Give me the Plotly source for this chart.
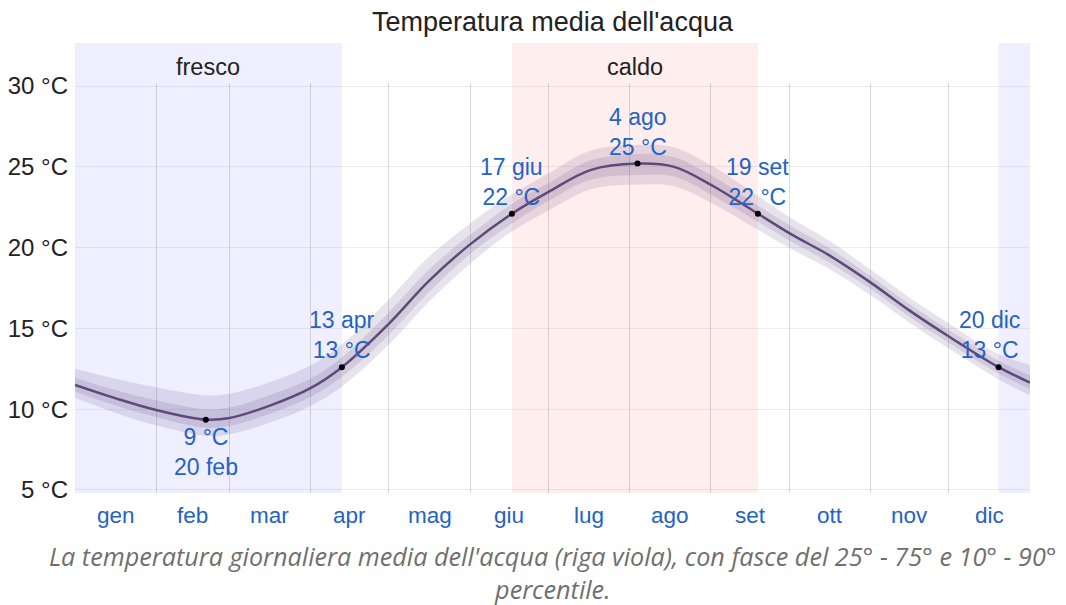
import plotly.graph_objects as go

# ---- data ----
days = [0, 15, 31, 50, 59, 75, 90, 102, 120, 135, 151, 167, 181, 197, 215, 229,
        244, 261, 274, 288, 304, 319, 334, 353, 365]
mean_t = [11.5, 10.7, 9.95, 9.35, 9.45, 10.25, 11.3, 12.6, 15.3, 17.9, 20.2, 22.1,
          23.45, 24.8, 25.2, 25.0, 23.8, 22.1, 20.8, 19.55, 17.85, 16.1, 14.5, 12.6, 11.65]
p10 = [10.7, 9.8, 9.0, 8.35, 8.45, 9.2, 10.2, 11.4, 14.0, 16.6, 19.0, 21.0,
       22.3, 23.6, 23.9, 23.8, 22.7, 21.1, 19.9, 18.7, 17.05, 15.35, 13.75, 11.85, 10.85]
p25 = [11.1, 10.25, 9.5, 8.85, 8.95, 9.75, 10.75, 12.0, 14.6, 17.2, 19.6, 21.5,
       22.9, 24.2, 24.5, 24.4, 23.2, 21.6, 20.35, 19.1, 17.45, 15.7, 14.1, 12.2, 11.25]
p75 = [11.95, 11.2, 10.55, 10.0, 10.1, 10.9, 11.9, 13.2, 16.0, 18.6, 20.8, 22.7,
       24.0, 25.4, 25.8, 25.6, 24.4, 22.6, 21.3, 20.0, 18.25, 16.5, 14.9, 13.0, 12.1]
p90 = [12.5, 11.9, 11.35, 10.85, 10.95, 11.7, 12.7, 14.0, 16.8, 19.4, 21.5, 23.3,
       24.6, 26.0, 26.35, 26.2, 25.0, 23.2, 21.8, 20.45, 18.65, 16.9, 15.3, 13.4, 12.75]

month_names = ["gen", "feb", "mar", "apr", "mag", "giu", "lug", "ago", "set", "ott", "nov", "dic"]
month_mids = [15.5, 45, 74.5, 105, 135.5, 166, 196.5, 227.5, 258, 288.5, 319, 349.5]
month_starts = [31, 59, 90, 120, 151, 181, 212, 243, 273, 304, 334]

y_ticks = [5, 10, 15, 20, 25, 30]
y_ticktext = ["5 °C", "10 °C", "15 °C", "20 °C", "25 °C", "30 °C"]

season_names = ["fresco", "caldo", ""]
season_start = [0, 167, 353]
season_end = [102, 261, 365]
season_colors = ["rgb(239,239,255)", "rgb(255,238,238)", "rgb(239,239,255)"]

pt_days = [50, 102, 167, 215, 261, 353]
pt_temps = [9.35, 12.6, 22.1, 25.2, 22.1, 12.6]
pt_labels = ["9 °C<br>20 feb", "13 apr<br>13 °C", "17 giu<br>22 °C",
             "4 ago<br>25 °C", "19 set<br>22 °C", "20 dic<br>13 °C"]
pt_below = [True, False, False, False, False, False]
pt_xshift = [0, 0, 0, 0, 0, -9]

title = "Temperatura media dell'acqua"
caption = ("La temperatura giornaliera media dell'acqua (riga viola), con fasce del 25° - 75° e 10° - 90°"
           "<br>percentile.")

FONT = "Liberation Sans, Arial, sans-serif"
BLUE = "#2462c6"
BAND = "rgba(95,70,125,0.15)"
LINE = "#5e4a78"

fig = go.Figure()

# outer band 10-90
fig.add_trace(go.Scatter(x=days, y=p90, mode="lines", line=dict(width=0, shape="spline"),
                         hoverinfo="skip", showlegend=False))
fig.add_trace(go.Scatter(x=days, y=p10, mode="lines", line=dict(width=0, shape="spline"),
                         fill="tonexty", fillcolor=BAND, hoverinfo="skip", showlegend=False))
# inner band 25-75
fig.add_trace(go.Scatter(x=days, y=p75, mode="lines", line=dict(width=0, shape="spline"),
                         hoverinfo="skip", showlegend=False))
fig.add_trace(go.Scatter(x=days, y=p25, mode="lines", line=dict(width=0, shape="spline"),
                         fill="tonexty", fillcolor=BAND, hoverinfo="skip", showlegend=False))
# mean line
fig.add_trace(go.Scatter(x=days, y=mean_t, mode="lines", line=dict(width=2.5, color=LINE, shape="spline"),
                         showlegend=False))
# points
fig.add_trace(go.Scatter(x=pt_days, y=pt_temps, mode="markers",
                         marker=dict(size=6, color="black"), showlegend=False))

# season shading (extends above the plot area)
for name, s, e, c in zip(season_names, season_start, season_end, season_colors):
    fig.add_shape(type="rect", xref="x", yref="paper", x0=s, x1=e, y0=0, y1=1.0976,
                  fillcolor=c, line=dict(width=0), layer="below")
    if name:
        fig.add_annotation(x=(s + e) / 2, y=1.039, xref="x", yref="paper", text=name,
                           showarrow=False, font=dict(size=23.5, color="#222", family=FONT),
                           yanchor="middle")

# point labels
for d, t, lab, below, xs in zip(pt_days, pt_temps, pt_labels, pt_below, pt_xshift):
    fig.add_annotation(x=d, y=t, xref="x", yref="y", text=lab, showarrow=False,
                       font=dict(size=23, color=BLUE, family=FONT),
                       yanchor="top" if below else "bottom",
                       yshift=-2 if below else 2, xshift=xs)

# month labels
for m, name in zip(month_mids, month_names):
    fig.add_annotation(x=m, y=0, xref="x", yref="paper", text=name, showarrow=False,
                       font=dict(size=22.5, color=BLUE, family=FONT), yanchor="top", yshift=-8)

# caption
fig.add_annotation(x=0.5, y=0, xref="paper", yref="paper", text="<i>" + caption + "</i>",
                   showarrow=False, yanchor="top", yshift=-44,
                   font=dict(size=25.2, color="#6f6f6f", family="Open Sans, sans-serif"))

fig.update_layout(
    width=1058, height=597,
    margin=dict(l=67, r=36, t=75, b=112, autoexpand=False),
    paper_bgcolor="white", plot_bgcolor="rgba(0,0,0,0)",
    title=dict(text=title, x=0.5, xref="paper", y=1, yanchor="top", pad=dict(t=4),
               font=dict(size=27, color="#222", family=FONT), automargin=False),
    xaxis=dict(range=[0, 365], tickvals=month_starts, showticklabels=False, ticks="",
               showgrid=True, gridcolor="rgba(0,0,0,0.14)", gridwidth=1, zeroline=False,
               showline=False, fixedrange=True, automargin=False),
    yaxis=dict(range=[4.81, 30.19], tickvals=y_ticks, ticktext=y_ticktext,
               showgrid=True, gridcolor="rgba(0,0,0,0.07)", gridwidth=1, zeroline=False,
               showline=False, ticks="", ticklabelstandoff=6, automargin=False,
               tickfont=dict(size=24, color="#222", family=FONT), fixedrange=True),
    showlegend=False,
    hovermode=False,
)

fig.write_html("out.html")
